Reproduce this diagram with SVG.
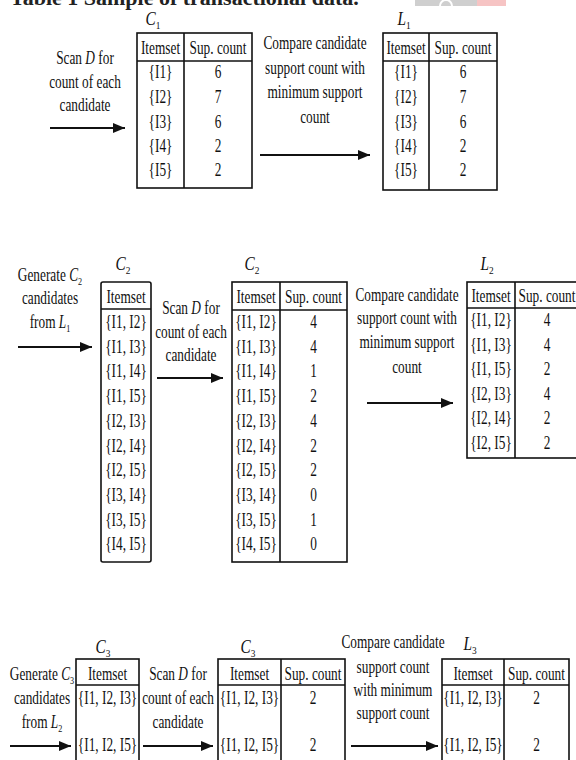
<svg xmlns="http://www.w3.org/2000/svg" width="576" height="760" viewBox="0 0 576 760">
<style>
.t{font-family:"Liberation Serif","Times New Roman",serif;font-size:18px;fill:#111;text-anchor:middle}
.lbl{font-family:"Liberation Serif","Times New Roman",serif;font-size:18px;font-style:italic;fill:#111;text-anchor:middle}
.i{font-style:italic}
.sub{font-size:11px;font-style:normal}
.tb{fill:#fff;stroke:#111;stroke-width:1.6}
.ln{stroke:#111;stroke-width:1.6;fill:none}
.ar{stroke:#111;stroke-width:2;fill:none;marker-end:url(#ah)}
.title{font-family:"Liberation Serif","Times New Roman",serif;font-size:22px;font-weight:bold;fill:#222}
</style>
<defs>
<marker id="ah" markerUnits="userSpaceOnUse" markerWidth="12" markerHeight="10" refX="12" refY="5" orient="auto">
<path d="M0,0 L12,5 L0,10 z" fill="#111"/>
</marker>
</defs>
<rect width="576" height="760" fill="#fff"/>
<g id="title">
<text class="title" x="10" y="5">Table 1 Sample of transactional data.</text>
<rect x="415" y="0" width="62" height="6" fill="#cfcfcf"/>
<rect x="477" y="0" width="29" height="6" fill="#f6c4c4"/>
<path d="M440,6 A6,6 0 0 1 452,6" fill="none" stroke="#fff" stroke-width="2"/>
</g>

<g id="connectors">
<line class="ar" x1="50" y1="128" x2="125" y2="128"/>
<line class="ar" x1="260" y1="155" x2="370" y2="155"/>
<line class="ar" x1="18" y1="347" x2="92" y2="347"/>
<line class="ar" x1="157" y1="378" x2="223" y2="378"/>
<line class="ar" x1="367" y1="403" x2="453" y2="403"/>
<line class="ar" x1="10" y1="746" x2="71" y2="746"/>
<line class="ar" x1="143" y1="746" x2="213" y2="746"/>
<line class="ar" x1="351" y1="746" x2="438" y2="746"/>
</g>

<g id="step-labels">
<text class="t" transform="translate(85,64) scale(0.74 1)">Scan <tspan class="i">D</tspan> for</text>
<text class="t" transform="translate(85,88) scale(0.74 1)">count of each</text>
<text class="t" transform="translate(85,111) scale(0.74 1)">candidate</text>

<text class="t" transform="translate(315,49) scale(0.74 1)">Compare candidate</text>
<text class="t" transform="translate(315,74) scale(0.74 1)">support count with</text>
<text class="t" transform="translate(315,98) scale(0.74 1)">minimum support</text>
<text class="t" transform="translate(315,123) scale(0.74 1)">count</text>

<text class="t" transform="translate(50,281) scale(0.74 1)">Generate <tspan class="i">C</tspan><tspan class="sub" dy="4">2</tspan></text>
<text class="t" transform="translate(50,304) scale(0.74 1)">candidates</text>
<text class="t" transform="translate(50,328) scale(0.74 1)">from <tspan class="i">L</tspan><tspan class="sub" dy="4">1</tspan></text>

<text class="t" transform="translate(191,314) scale(0.74 1)">Scan <tspan class="i">D</tspan> for</text>
<text class="t" transform="translate(191,338) scale(0.74 1)">count of each</text>
<text class="t" transform="translate(191,361) scale(0.74 1)">candidate</text>

<text class="t" transform="translate(407,301) scale(0.74 1)">Compare candidate</text>
<text class="t" transform="translate(407,324) scale(0.74 1)">support count with</text>
<text class="t" transform="translate(407,348) scale(0.74 1)">minimum support</text>
<text class="t" transform="translate(407,373) scale(0.74 1)">count</text>

<text class="t" transform="translate(42,680) scale(0.74 1)">Generate <tspan class="i">C</tspan><tspan class="sub" dy="4">3</tspan></text>
<text class="t" transform="translate(42,704) scale(0.74 1)">candidates</text>
<text class="t" transform="translate(42,728) scale(0.74 1)">from <tspan class="i">L</tspan><tspan class="sub" dy="4">2</tspan></text>

<text class="t" transform="translate(178,680) scale(0.74 1)">Scan <tspan class="i">D</tspan> for</text>
<text class="t" transform="translate(178,704) scale(0.74 1)">count of each</text>
<text class="t" transform="translate(178,728) scale(0.74 1)">candidate</text>

<text class="t" transform="translate(393,648) scale(0.74 1)">Compare candidate</text>
<text class="t" transform="translate(393,673) scale(0.74 1)">support count</text>
<text class="t" transform="translate(393,696) scale(0.74 1)">with minimum</text>
<text class="t" transform="translate(393,719) scale(0.74 1)">support count</text>
</g>

<g id="C1">
<text class="lbl" transform="translate(153,25) scale(0.85 1)">C<tspan class="sub" dy="4">1</tspan></text>
<rect class="tb" x="137" y="33" width="115" height="155"/>
<line class="ln" x1="137" y1="61" x2="252" y2="61"/>
<line class="ln" x1="184" y1="33" x2="184" y2="188"/>
<text class="t" transform="translate(160.5,54) scale(0.74 1)">Itemset</text>
<text class="t" transform="translate(218,54) scale(0.74 1)">Sup. count</text>
<text class="t" transform="translate(160.5,78) scale(0.74 1)">{I1}</text><text class="t" transform="translate(218,78) scale(0.74 1)">6</text>
<text class="t" transform="translate(160.5,103) scale(0.74 1)">{I2}</text><text class="t" transform="translate(218,103) scale(0.74 1)">7</text>
<text class="t" transform="translate(160.5,128) scale(0.74 1)">{I3}</text><text class="t" transform="translate(218,128) scale(0.74 1)">6</text>
<text class="t" transform="translate(160.5,152) scale(0.74 1)">{I4}</text><text class="t" transform="translate(218,152) scale(0.74 1)">2</text>
<text class="t" transform="translate(160.5,176) scale(0.74 1)">{I5}</text><text class="t" transform="translate(218,176) scale(0.74 1)">2</text>
</g>

<g id="L1">
<text class="lbl" transform="translate(404,25) scale(0.85 1)">L<tspan class="sub" dy="4">1</tspan></text>
<rect class="tb" x="383" y="33" width="114" height="157"/>
<line class="ln" x1="383" y1="61" x2="497" y2="61"/>
<line class="ln" x1="429" y1="33" x2="429" y2="190"/>
<text class="t" transform="translate(406,54) scale(0.74 1)">Itemset</text>
<text class="t" transform="translate(463,54) scale(0.74 1)">Sup. count</text>
<text class="t" transform="translate(406,78) scale(0.74 1)">{I1}</text><text class="t" transform="translate(463,78) scale(0.74 1)">6</text>
<text class="t" transform="translate(406,103) scale(0.74 1)">{I2}</text><text class="t" transform="translate(463,103) scale(0.74 1)">7</text>
<text class="t" transform="translate(406,128) scale(0.74 1)">{I3}</text><text class="t" transform="translate(463,128) scale(0.74 1)">6</text>
<text class="t" transform="translate(406,152) scale(0.74 1)">{I4}</text><text class="t" transform="translate(463,152) scale(0.74 1)">2</text>
<text class="t" transform="translate(406,176) scale(0.74 1)">{I5}</text><text class="t" transform="translate(463,176) scale(0.74 1)">2</text>
</g>

<g id="C2-candidates">
<text class="lbl" transform="translate(123,270) scale(0.85 1)">C<tspan class="sub" dy="4">2</tspan></text>
<rect class="tb" x="101" y="282" width="50" height="280" rx="2"/>
<line class="ln" x1="101" y1="309" x2="151" y2="309"/>
<text class="t" transform="translate(126,303) scale(0.74 1)">Itemset</text>
<text class="t" transform="translate(126,328) scale(0.74 1)">{I1, I2}</text>
<text class="t" transform="translate(126,352.7) scale(0.74 1)">{I1, I3}</text>
<text class="t" transform="translate(126,377.4) scale(0.74 1)">{I1, I4}</text>
<text class="t" transform="translate(126,402.1) scale(0.74 1)">{I1, I5}</text>
<text class="t" transform="translate(126,426.8) scale(0.74 1)">{I2, I3}</text>
<text class="t" transform="translate(126,451.5) scale(0.74 1)">{I2, I4}</text>
<text class="t" transform="translate(126,476.2) scale(0.74 1)">{I2, I5}</text>
<text class="t" transform="translate(126,500.9) scale(0.74 1)">{I3, I4}</text>
<text class="t" transform="translate(126,525.6) scale(0.74 1)">{I3, I5}</text>
<text class="t" transform="translate(126,550.3) scale(0.74 1)">{I4, I5}</text>
</g>

<g id="C2-counts">
<text class="lbl" transform="translate(252,270) scale(0.85 1)">C<tspan class="sub" dy="4">2</tspan></text>
<rect class="tb" x="232" y="282" width="115" height="280"/>
<line class="ln" x1="232" y1="310" x2="347" y2="310"/>
<line class="ln" x1="280" y1="282" x2="280" y2="562"/>
<text class="t" transform="translate(256,303) scale(0.74 1)">Itemset</text>
<text class="t" transform="translate(313.5,303) scale(0.74 1)">Sup. count</text>
<text class="t" transform="translate(256,328) scale(0.74 1)">{I1, I2}</text><text class="t" transform="translate(313.5,328) scale(0.74 1)">4</text>
<text class="t" transform="translate(256,352.7) scale(0.74 1)">{I1, I3}</text><text class="t" transform="translate(313.5,352.7) scale(0.74 1)">4</text>
<text class="t" transform="translate(256,377.4) scale(0.74 1)">{I1, I4}</text><text class="t" transform="translate(313.5,377.4) scale(0.74 1)">1</text>
<text class="t" transform="translate(256,402.1) scale(0.74 1)">{I1, I5}</text><text class="t" transform="translate(313.5,402.1) scale(0.74 1)">2</text>
<text class="t" transform="translate(256,426.8) scale(0.74 1)">{I2, I3}</text><text class="t" transform="translate(313.5,426.8) scale(0.74 1)">4</text>
<text class="t" transform="translate(256,451.5) scale(0.74 1)">{I2, I4}</text><text class="t" transform="translate(313.5,451.5) scale(0.74 1)">2</text>
<text class="t" transform="translate(256,476.2) scale(0.74 1)">{I2, I5}</text><text class="t" transform="translate(313.5,476.2) scale(0.74 1)">2</text>
<text class="t" transform="translate(256,500.9) scale(0.74 1)">{I3, I4}</text><text class="t" transform="translate(313.5,500.9) scale(0.74 1)">0</text>
<text class="t" transform="translate(256,525.6) scale(0.74 1)">{I3, I5}</text><text class="t" transform="translate(313.5,525.6) scale(0.74 1)">1</text>
<text class="t" transform="translate(256,550.3) scale(0.74 1)">{I4, I5}</text><text class="t" transform="translate(313.5,550.3) scale(0.74 1)">0</text>
</g>

<g id="L2">
<text class="lbl" transform="translate(487,270) scale(0.85 1)">L<tspan class="sub" dy="4">2</tspan></text>
<rect class="tb" x="467" y="282" width="113" height="176"/>
<line class="ln" x1="467" y1="308" x2="580" y2="308"/>
<line class="ln" x1="515" y1="282" x2="515" y2="458"/>
<text class="t" transform="translate(491,302) scale(0.74 1)">Itemset</text>
<text class="t" transform="translate(547,302) scale(0.74 1)">Sup. count</text>
<text class="t" transform="translate(491,326) scale(0.74 1)">{I1, I2}</text><text class="t" transform="translate(547,326) scale(0.74 1)">4</text>
<text class="t" transform="translate(491,350.5) scale(0.74 1)">{I1, I3}</text><text class="t" transform="translate(547,350.5) scale(0.74 1)">4</text>
<text class="t" transform="translate(491,375) scale(0.74 1)">{I1, I5}</text><text class="t" transform="translate(547,375) scale(0.74 1)">2</text>
<text class="t" transform="translate(491,399.5) scale(0.74 1)">{I2, I3}</text><text class="t" transform="translate(547,399.5) scale(0.74 1)">4</text>
<text class="t" transform="translate(491,424) scale(0.74 1)">{I2, I4}</text><text class="t" transform="translate(547,424) scale(0.74 1)">2</text>
<text class="t" transform="translate(491,448.5) scale(0.74 1)">{I2, I5}</text><text class="t" transform="translate(547,448.5) scale(0.74 1)">2</text>
</g>

<g id="C3-candidates">
<text class="lbl" transform="translate(103,653) scale(0.85 1)">C<tspan class="sub" dy="4">3</tspan></text>
<rect class="tb" x="76" y="659" width="63" height="115"/>
<line class="ln" x1="76" y1="685" x2="139" y2="685"/>
<text class="t" transform="translate(107.5,680) scale(0.74 1)">Itemset</text>
<text class="t" transform="translate(107.5,704) scale(0.74 1)">{I1, I2, I3}</text>
<text class="t" transform="translate(107.5,751) scale(0.74 1)">{I1, I2, I5}</text>
</g>

<g id="C3-counts">
<text class="lbl" transform="translate(248,653) scale(0.85 1)">C<tspan class="sub" dy="4">3</tspan></text>
<rect class="tb" x="218" y="659" width="127" height="115"/>
<line class="ln" x1="218" y1="685" x2="345" y2="685"/>
<line class="ln" x1="281" y1="659" x2="281" y2="774"/>
<text class="t" transform="translate(249.5,680) scale(0.74 1)">Itemset</text>
<text class="t" transform="translate(313,680) scale(0.74 1)">Sup. count</text>
<text class="t" transform="translate(249.5,704) scale(0.74 1)">{I1, I2, I3}</text><text class="t" transform="translate(313,704) scale(0.74 1)">2</text>
<text class="t" transform="translate(249.5,751) scale(0.74 1)">{I1, I2, I5}</text><text class="t" transform="translate(313,751) scale(0.74 1)">2</text>
</g>

<g id="L3">
<text class="lbl" transform="translate(470,650) scale(0.85 1)">L<tspan class="sub" dy="4">3</tspan></text>
<rect class="tb" x="442" y="659" width="127" height="115"/>
<line class="ln" x1="442" y1="685" x2="569" y2="685"/>
<line class="ln" x1="504" y1="659" x2="504" y2="774"/>
<text class="t" transform="translate(473,680) scale(0.74 1)">Itemset</text>
<text class="t" transform="translate(536.5,680) scale(0.74 1)">Sup. count</text>
<text class="t" transform="translate(473,704) scale(0.74 1)">{I1, I2, I3}</text><text class="t" transform="translate(536.5,704) scale(0.74 1)">2</text>
<text class="t" transform="translate(473,751) scale(0.74 1)">{I1, I2, I5}</text><text class="t" transform="translate(536.5,751) scale(0.74 1)">2</text>
</g>
</svg>
